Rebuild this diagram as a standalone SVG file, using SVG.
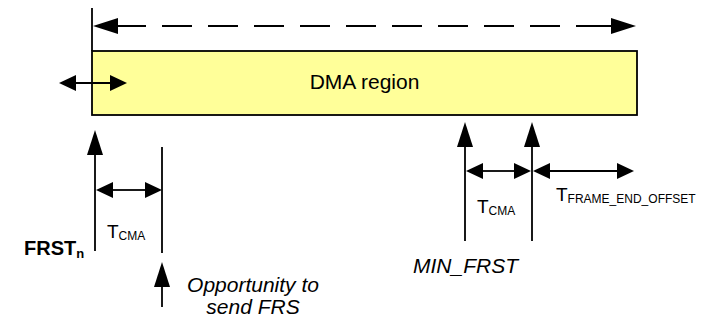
<svg xmlns="http://www.w3.org/2000/svg" width="715" height="321" viewBox="0 0 715 321">
<style>
.ln{stroke:#000;stroke-width:1.8;fill:none}
.t{font-family:"Liberation Sans",Arial,sans-serif;fill:#000}
.big{font-size:21px}
.it{font-size:21px;font-style:italic}
.tm{font-size:19px}
.sub{font-size:12px}
</style>
<defs>
<marker id="bh" markerUnits="userSpaceOnUse" markerWidth="26" markerHeight="17" refX="0" refY="8" orient="auto-start-reverse" overflow="visible">
<path d="M0,0 L25,8 L0,16 Z" fill="#000"/>
</marker>
<marker id="sh" markerUnits="userSpaceOnUse" markerWidth="18" markerHeight="17" refX="0" refY="8" orient="auto-start-reverse" overflow="visible">
<path d="M0,0 L17,8 L0,16 Z" fill="#000"/>
</marker>
</defs>
<g id="dma-region">
<rect x="92" y="51" width="545" height="64" fill="#FFFF99" stroke="#000" stroke-width="1.8"/>
<text class="t big" x="364.5" y="89" text-anchor="middle">DMA region</text>
</g>
<g id="frst-n">
<text class="t" x="24" y="255" font-size="20" font-weight="bold">FRST<tspan font-size="13" dy="3">n</tspan></text>
</g>
<g id="tcma-left">
<text class="t tm" x="107" y="238">T<tspan class="sub" dy="2">CMA</tspan></text>
</g>
<g id="opportunity">
<text class="t it" x="253" y="292" text-anchor="middle">Opportunity to</text>
<text class="t it" x="253" y="314" text-anchor="middle">send FRS</text>
</g>
<g id="min-frst">
<text class="t it" x="413" y="273">MIN_FRST</text>
</g>
<g id="tcma-right">
<text class="t tm" x="477" y="213">T<tspan class="sub" dy="2">CMA</tspan></text>
</g>
<g id="tframe">
<text class="t tm" x="556" y="201">T<tspan class="sub" dy="2">FRAME_END_OFFSET</tspan></text>
</g>
<g id="connectors">
<line class="ln" x1="92" y1="8" x2="92" y2="51"/>
<line class="ln" x1="118" y1="26" x2="611" y2="26" stroke-dasharray="28 16 30 16 30 16 30 16 30 16 30 16 30 16 30 16 30 16 30 16 35 1" marker-start="url(#bh)" marker-end="url(#bh)"/>
<line class="ln" x1="76" y1="83" x2="110" y2="83" marker-start="url(#sh)" marker-end="url(#sh)"/>
<line class="ln" x1="95" y1="251" x2="95" y2="155" marker-end="url(#bh)"/>
<line class="ln" x1="162" y1="147" x2="162" y2="253"/>
<line class="ln" x1="113" y1="190" x2="145" y2="190" marker-start="url(#sh)" marker-end="url(#sh)"/>
<line class="ln" x1="162" y1="307" x2="162" y2="287" marker-end="url(#bh)"/>
<line class="ln" x1="465" y1="241" x2="465" y2="147" marker-end="url(#bh)"/>
<line class="ln" x1="532" y1="241" x2="532" y2="147" marker-end="url(#bh)"/>
<line class="ln" x1="483" y1="171" x2="514" y2="171" marker-start="url(#sh)" marker-end="url(#sh)"/>
<line class="ln" x1="550" y1="171" x2="617" y2="171" marker-start="url(#sh)" marker-end="url(#sh)"/>
</g>
</svg>
